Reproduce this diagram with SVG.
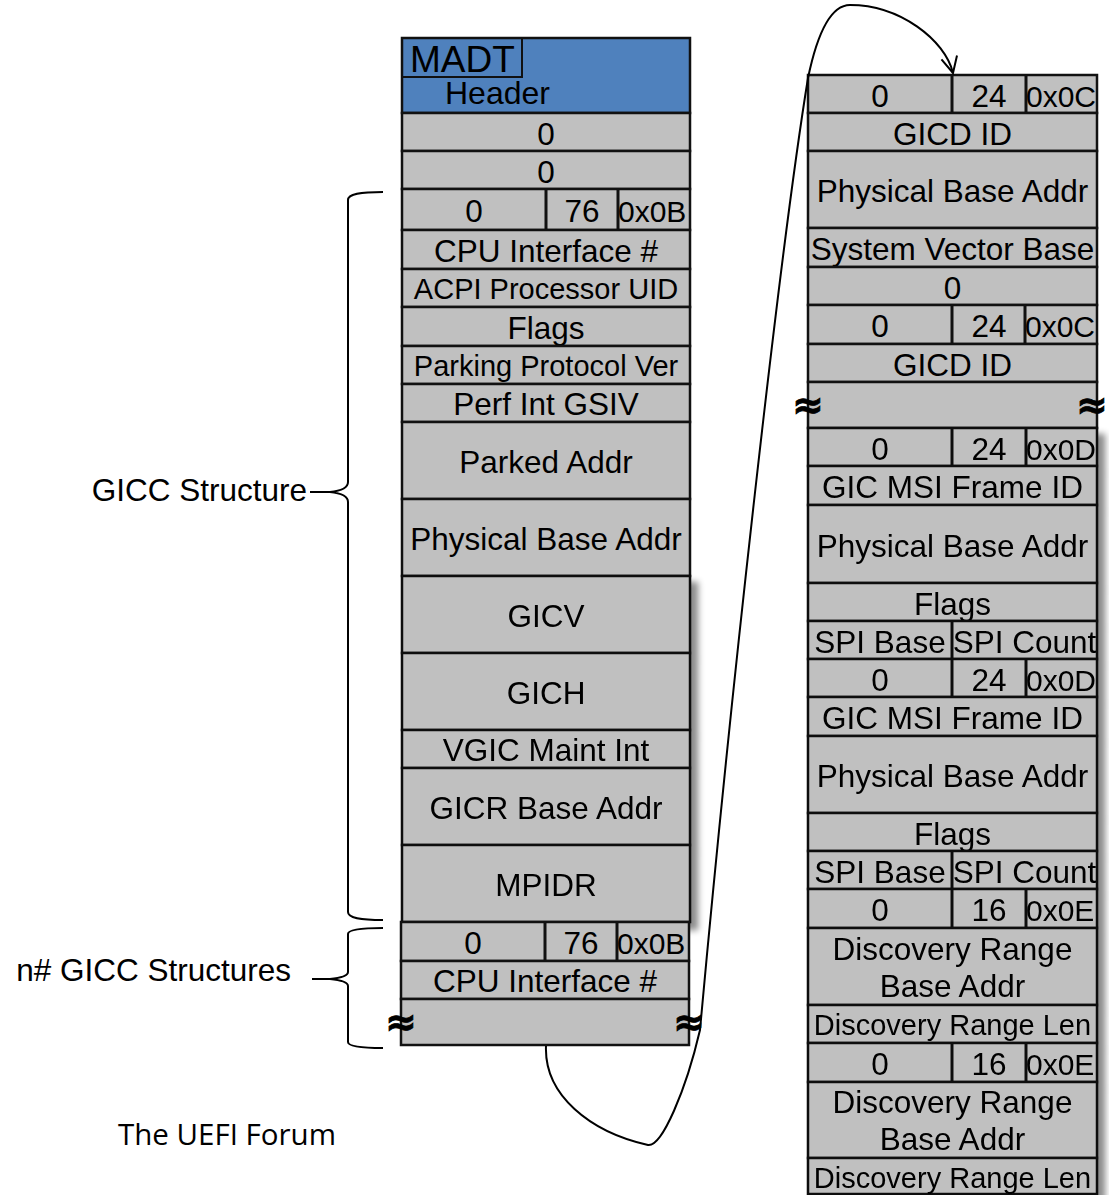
<svg xmlns="http://www.w3.org/2000/svg" width="1109" height="1195" viewBox="0 0 1109 1195">
<style>
.c{fill:#c0c0c0;stroke:#111;stroke-width:2.5}
.h{fill:#4f81bd;stroke:#111;stroke-width:2.5}
.d{stroke:#111;stroke-width:3}
.t{font-family:"Liberation Sans",Arial,sans-serif;font-size:31.5px;text-anchor:middle;fill:#000}
.s{font-size:29px}
.x{font-size:30px;text-anchor:start}
.a{font-family:"DejaVu Sans",sans-serif;font-weight:bold;font-size:38px;text-anchor:middle;fill:#000;stroke:#000;stroke-width:0.8}
.lb{font-family:"Liberation Sans",Arial,sans-serif;font-size:31.5px;text-anchor:end;fill:#000}
.br{fill:none;stroke:#000;stroke-width:2}
</style>
<defs>
<filter id="sh" x="-10%" y="-10%" width="130%" height="130%">
<feDropShadow dx="7" dy="7" stdDeviation="3" flood-color="#000" flood-opacity="0.45"/>
</filter>
<marker id="arr" viewBox="0 0 20 20" refX="18" refY="10" markerWidth="20" markerHeight="20" markerUnits="userSpaceOnUse" orient="auto">
<path d="M2 2 L18 10 L2 18" fill="none" stroke="#000" stroke-width="2"/>
</marker>
</defs>
<rect width="1109" height="1195" fill="#fff"/>

<!-- Left column -->
<g id="madt-header">
<rect class="h" x="402" y="38" width="288" height="75"/>
<rect x="402" y="38" width="120" height="39" fill="none" stroke="#111" stroke-width="2"/>
<text class="t" x="410" y="72" style="font-size:37px;text-anchor:start">MADT</text>
<text class="t" x="445" y="104" style="font-size:32px;text-anchor:start">Header</text>
</g>
<g id="l-zero1"><rect class="c" x="402" y="113" width="288" height="38"/><text class="t" x="546" y="144.5">0</text></g>
<g id="l-zero2"><rect class="c" x="402" y="151" width="288" height="38"/><text class="t" x="546" y="182.5">0</text></g>
<g id="l-g1-type"><rect class="c" x="402" y="189" width="288" height="41"/><line class="d" x1="546" y1="189" x2="546" y2="230"/><line class="d" x1="618" y1="189" x2="618" y2="230"/><text class="t" x="474" y="222">0</text><text class="t" x="582" y="222">76</text><text class="t x" x="618" y="222">0x0B</text></g>
<g id="l-g1-cpu"><rect class="c" x="402" y="230" width="288" height="39"/><text class="t" x="546" y="262">CPU Interface #</text></g>
<g id="l-g1-acpi"><rect class="c" x="402" y="269" width="288" height="38"/><text class="t s" x="546" y="299">ACPI Processor UID</text></g>
<g id="l-g1-flags"><rect class="c" x="402" y="307" width="288" height="39"/><text class="t" x="546" y="339">Flags</text></g>
<g id="l-g1-park"><rect class="c" x="402" y="346" width="288" height="38"/><text class="t s" x="546" y="376">Parking Protocol Ver</text></g>
<g id="l-g1-perf"><rect class="c" x="402" y="384" width="288" height="38"/><text class="t" x="546" y="415">Perf Int GSIV</text></g>
<g id="l-g1-parked"><rect class="c" x="402" y="422" width="288" height="77"/><text class="t" x="546" y="473">Parked Addr</text></g>
<g id="l-g1-phys"><rect class="c" x="402" y="499" width="288" height="77"/><text class="t" x="546" y="550">Physical Base Addr</text></g>
<g filter="url(#sh)">
<g id="l-g1-gicv"><rect class="c" x="402" y="576" width="288" height="77"/><text class="t" x="546" y="627">GICV</text></g>
<g id="l-g1-gich"><rect class="c" x="402" y="653" width="288" height="77"/><text class="t" x="546" y="704">GICH</text></g>
<g id="l-g1-vgic"><rect class="c" x="402" y="730" width="288" height="38"/><text class="t" x="546" y="761">VGIC Maint Int</text></g>
<g id="l-g1-gicr"><rect class="c" x="402" y="768" width="288" height="77"/><text class="t" x="546" y="819">GICR Base Addr</text></g>
<g id="l-g1-mpidr"><rect class="c" x="402" y="845" width="288" height="77"/><text class="t" x="546" y="896">MPIDR</text></g>
</g>
<g id="l-g2-type"><rect class="c" x="401" y="922" width="288" height="39"/><line class="d" x1="545" y1="922" x2="545" y2="961"/><line class="d" x1="617" y1="922" x2="617" y2="961"/><text class="t" x="473" y="954">0</text><text class="t" x="581" y="954">76</text><text class="t x" x="617" y="954">0x0B</text></g>
<g id="l-g2-cpu"><rect class="c" x="401" y="961" width="288" height="38"/><text class="t" x="545" y="992">CPU Interface #</text></g>
<g id="l-g2-cont"><rect class="c" x="401" y="999" width="288" height="46"/><text class="a" x="401" y="1035">≈</text><text class="a" x="689" y="1035">≈</text></g>

<!-- Right column -->
<g id="r-gicd1-type"><rect class="c" x="808" y="75" width="289" height="38"/><line class="d" x1="952" y1="75" x2="952" y2="113"/><line class="d" x1="1026" y1="75" x2="1026" y2="113"/><text class="t" x="880" y="106.5">0</text><text class="t" x="989" y="106.5">24</text><text class="t x" x="1026" y="106.5">0x0C</text></g>
<g id="r-gicd1-id"><rect class="c" x="808" y="113" width="289" height="38"/><text class="t" x="952.5" y="144.5">GICD ID</text></g>
<g id="r-gicd1-phys"><rect class="c" x="808" y="151" width="289" height="77"/><text class="t" x="952.5" y="202">Physical Base Addr</text></g>
<g id="r-gicd1-svb"><rect class="c" x="808" y="228" width="289" height="39"/><text class="t" x="952.5" y="260">System Vector Base</text></g>
<g id="r-gicd1-zero"><rect class="c" x="808" y="267" width="289" height="38"/><text class="t" x="952.5" y="298.5">0</text></g>
<g id="r-gicd2-type"><rect class="c" x="808" y="305" width="289" height="39"/><line class="d" x1="952" y1="305" x2="952" y2="344"/><line class="d" x1="1025" y1="305" x2="1025" y2="344"/><text class="t" x="880" y="337">0</text><text class="t" x="989" y="337">24</text><text class="t x" x="1025" y="337">0x0C</text></g>
<g id="r-gicd2-id"><rect class="c" x="808" y="344" width="289" height="38"/><text class="t" x="952.5" y="375.5">GICD ID</text></g>
<g id="r-gicd2-cont"><rect class="c" x="808" y="382" width="289" height="46"/><text class="a" x="808" y="418">≈</text><text class="a" x="1092" y="418">≈</text></g>
<g filter="url(#sh)">
<g id="r-msi1-type"><rect class="c" x="808" y="428" width="289" height="38"/><line class="d" x1="952" y1="428" x2="952" y2="466"/><line class="d" x1="1026" y1="428" x2="1026" y2="466"/><text class="t" x="880" y="459.5">0</text><text class="t" x="989" y="459.5">24</text><text class="t x" x="1026" y="459.5">0x0D</text></g>
<g id="r-msi1-id"><rect class="c" x="808" y="466" width="289" height="39"/><text class="t" x="952.5" y="498">GIC MSI Frame ID</text></g>
<g id="r-msi1-phys"><rect class="c" x="808" y="505" width="289" height="78"/><text class="t" x="952.5" y="556.5">Physical Base Addr</text></g>
<g id="r-msi1-flags"><rect class="c" x="808" y="583" width="289" height="38"/><text class="t" x="952.5" y="614.5">Flags</text></g>
<g id="r-msi1-spi"><rect class="c" x="808" y="621" width="289" height="38"/><line class="d" x1="952" y1="621" x2="952" y2="659"/><text class="t" x="880" y="652.5">SPI Base</text><text class="t" x="1024.5" y="652.5">SPI Count</text></g>
<g id="r-msi2-type"><rect class="c" x="808" y="659" width="289" height="38"/><line class="d" x1="952" y1="659" x2="952" y2="697"/><line class="d" x1="1026" y1="659" x2="1026" y2="697"/><text class="t" x="880" y="690.5">0</text><text class="t" x="989" y="690.5">24</text><text class="t x" x="1026" y="690.5">0x0D</text></g>
<g id="r-msi2-id"><rect class="c" x="808" y="697" width="289" height="39"/><text class="t" x="952.5" y="729">GIC MSI Frame ID</text></g>
<g id="r-msi2-phys"><rect class="c" x="808" y="736" width="289" height="77"/><text class="t" x="952.5" y="787">Physical Base Addr</text></g>
<g id="r-msi2-flags"><rect class="c" x="808" y="813" width="289" height="38"/><text class="t" x="952.5" y="844.5">Flags</text></g>
<g id="r-msi2-spi"><rect class="c" x="808" y="851" width="289" height="38"/><line class="d" x1="952" y1="851" x2="952" y2="889"/><text class="t" x="880" y="882.5">SPI Base</text><text class="t" x="1024.5" y="882.5">SPI Count</text></g>
<g id="r-its1-type"><rect class="c" x="808" y="889" width="289" height="39"/><line class="d" x1="952" y1="889" x2="952" y2="928"/><line class="d" x1="1026" y1="889" x2="1026" y2="928"/><text class="t" x="880" y="921">0</text><text class="t" x="989" y="921">16</text><text class="t x" x="1026" y="921">0x0E</text></g>
<g id="r-its1-base"><rect class="c" x="808" y="928" width="289" height="77"/><text class="t" x="952.5" y="960">Discovery Range</text><text class="t" x="952.5" y="997">Base Addr</text></g>
<g id="r-its1-len"><rect class="c" x="808" y="1005" width="289" height="38"/><text class="t s" x="952.5" y="1035">Discovery Range Len</text></g>
<g id="r-its2-type"><rect class="c" x="808" y="1043" width="289" height="39"/><line class="d" x1="952" y1="1043" x2="952" y2="1082"/><line class="d" x1="1026" y1="1043" x2="1026" y2="1082"/><text class="t" x="880" y="1075">0</text><text class="t" x="989" y="1075">16</text><text class="t x" x="1026" y="1075">0x0E</text></g>
<g id="r-its2-base"><rect class="c" x="808" y="1082" width="289" height="76"/><text class="t" x="952.5" y="1113">Discovery Range</text><text class="t" x="952.5" y="1150">Base Addr</text></g>
<g id="r-its2-len"><rect class="c" x="808" y="1158" width="289" height="36"/><text class="t s" x="952.5" y="1188">Discovery Range Len</text></g>
</g>

<!-- Braces and labels -->
<g id="gicc-structure">
<path class="br" d="M383 192 C360 192 348 194 348 200 L348 482 C348 488 340 491 330 492 C340 493 348 496 348 502 L348 912 C348 918 360 920 383 920"/>
<line class="br" x1="310" y1="492" x2="330" y2="492"/>
<text class="lb" x="307" y="501">GICC Structure</text>
</g>
<g id="n-gicc-structures">
<path class="br" d="M383 928 C360 928 348 930 348 934 L348 972 C348 976 340 978 330 979 C340 980 348 982 348 986 L348 1042 C348 1046 360 1048 383 1048"/>
<line class="br" x1="312" y1="979" x2="330" y2="979"/>
<text class="lb" x="291" y="981">n# GICC Structures</text>
</g>
<g id="footer">
<text x="118" y="1145" style="font-family:'Open Sans','Noto Sans',sans-serif;font-size:29.5px;fill:#000">The UEFI Forum</text>
</g>

<!-- Connectors -->
<g id="connectors">
<path d="M546 1046 C544 1095 590 1132 648 1145 C662 1147 686 1090 700 1030 C730 700 780 250 808 78 C818 30 832 5 850 5 C900 5 945 40 953 73" fill="none" stroke="#000" stroke-width="2" marker-end="url(#arr)"/>
</g>
</svg>
